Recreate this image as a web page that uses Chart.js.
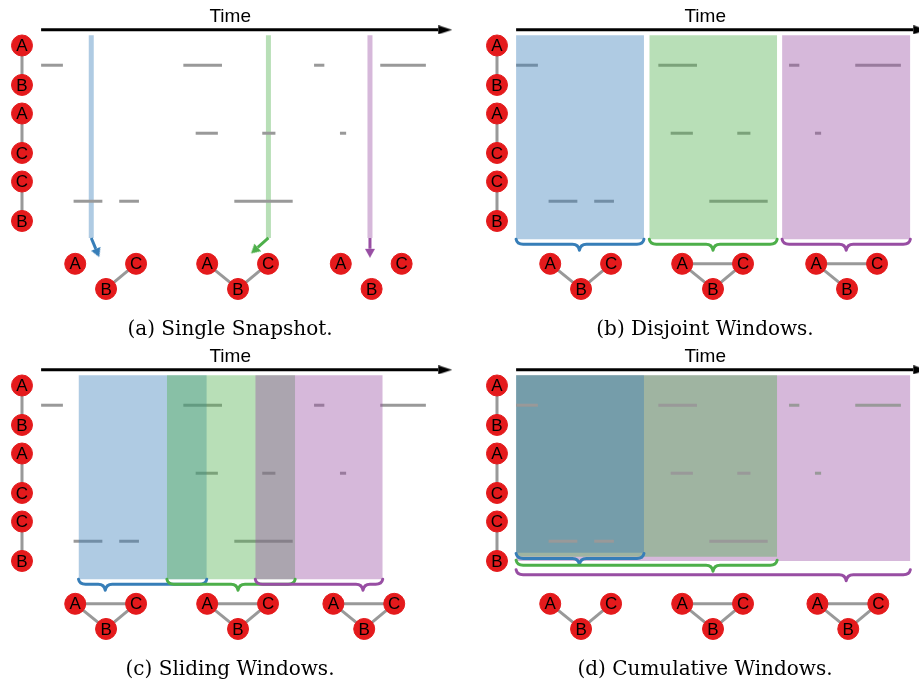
<!DOCTYPE html>
<html>
<head>
<meta charset="utf-8">
<title>Temporal network windows</title>
<script src="https://cdn.jsdelivr.net/npm/chart.js@4.4.1/dist/chart.umd.min.js"></script>
<style>
  html, body { margin: 0; padding: 0; background: #fff; }
  body { width: 919px; height: 685px; overflow: hidden; position: relative; }
  canvas { position: absolute; }
  #panelA { left: 0; top: 0; }
  #panelB { left: 475px; top: 0; }
  #panelC { left: 0; top: 340px; }
  #panelD { left: 475px; top: 340px; }
</style>
</head>
<body>
<canvas id="panelA" width="460" height="345"></canvas>
<canvas id="panelB" width="460" height="345"></canvas>
<canvas id="panelC" width="460" height="345"></canvas>
<canvas id="panelD" width="460" height="345"></canvas>
<script>
// node column on the left: pairs A-B, A-C, C-B (one pair per row)
var nodeLetters = ['A', 'B', 'A', 'C', 'C', 'B'];
var pairRows = [0, 1, 2];

// contacts (start, end) on the time axis, one list per pair
var contactsAB = [[0, 5.3], [34.6, 44.0], [66.4, 68.9], [82.5, 93.6]];
var contactsAC = [[37.6, 43.0], [53.8, 57.0], [72.7, 74.2]];
var contactsCB = [[7.9, 14.9], [19.0, 23.8], [47.0, 61.2]];

// (a) snapshots
var snapshotTimes = [12.2, 55.3, 80.0];
var snapshotArrowEnds = [[13.3, 2.70], [52.7, 2.68], [80.0, 2.70]];

// windows
var disjointWindows = [[0, 31.1], [32.4, 63.5], [64.7, 95.9]];
var slidingWindows = [[9.1, 40.3], [30.6, 61.8], [52.1, 83.1]];
var cumulativeWindows = [[0, 31.1], [0, 63.5], [0, 95.9]];
var cumulativeBottoms = [2.17, 2.23, 2.29];

// brace tips and the aggregated graphs under each panel
var braceTipsB = [15.4, 47.9, 80.3];
var braceTipsC = [15.6, 47.9, 78.3];
var braceTipsD = [15.4, 47.9, 80.3];
var braceRowsD = [2.18, 2.28, 2.42];

var graphCentersA = [15.8, 47.9, 80.4];
var graphCentersB = [15.8, 47.9, 80.5];
var graphCentersC = [15.8, 47.9, 78.6];
var graphCentersD = [15.8, 47.9, 80.8];

var graphEdgesA = [['B-C'], ['A-B', 'B-C'], []];
var graphEdgesB = [['A-B', 'B-C'], ['A-B', 'B-C', 'A-C'], ['A-B', 'A-C']];
var graphEdgesC = [['A-B', 'B-C', 'A-C'], ['A-B', 'B-C', 'A-C'], ['A-B', 'B-C', 'A-C']];
var graphEdgesD = [['A-B', 'B-C'], ['A-B', 'B-C', 'A-C'], ['A-B', 'B-C', 'A-C']];

var captions = ['(a) Single Snapshot.', '(b) Disjoint Windows.', '(c) Sliding Windows.', '(d) Cumulative Windows.'];

// ---- styling / layout constants ----
var RED = '#e41a1c';
var GRAY = '#999999';
var strong = ['#377eb8', '#4daf4a', '#984ea3'];
var pale = ['rgba(55,126,184,0.4)', 'rgba(77,175,74,0.4)', 'rgba(152,78,163,0.4)'];
var NODE_COL = -4.65, NODE_OFF = 0.29;
var TIME_ROW = -0.52, TIME_LABEL_ROW = -0.72, TIME_LABEL_AT = 46, TIME_END = 96.6;
var WIN_TOP = -0.44, WIN_BOTTOM = 2.56, SNAP_BOTTOM = 2.54;
var graphLayout = { A: [-7.5, 2.92], B: [0, 3.29], C: [7.3, 2.92] };

function pt(x, y) { return { x: x, y: y }; }

function makeHead(color, len, wid) {
    // base of the head sits at the canvas centre, tip points right
    var c = document.createElement('canvas');
    c.width = len * 2; c.height = wid;
    var g = c.getContext('2d');
    g.fillStyle = color;
    g.beginPath();
    g.moveTo(len, 0); g.lineTo(len * 2, wid / 2); g.lineTo(len, wid);
    g.closePath(); g.fill();
    return c;
}

function rotationOf(ctx) {
    var d = ctx.dataset.data, sx = ctx.chart.scales.x, sy = ctx.chart.scales.y;
    var a = d[0], b = d[d.length - 1];
    return Math.atan2(sy.getPixelForValue(b.y) - sy.getPixelForValue(a.y),
        sx.getPixelForValue(b.x) - sx.getPixelForValue(a.x)) * 180 / Math.PI;
}

function seg(a, b, color, width, order) {
    return { type: 'line', data: [a, b], borderColor: color, borderWidth: width,
        pointRadius: 0, order: order };
}

function arrow(a, b, color, width, head, order) {
    return { type: 'line', data: [a, b], borderColor: color, borderWidth: width, order: order,
        pointRadius: [0, 6], pointStyle: ['circle', head], pointRotation: rotationOf,
        pointBackgroundColor: color, pointBorderWidth: 0 };
}

function nodes(points, letters) {
    return { type: 'line', showLine: false, data: points, letters: letters,
        pointRadius: 10.5, pointBackgroundColor: RED, pointBorderColor: RED,
        pointBorderWidth: 1, order: 0 };
}

function windowBox(w, bottom, color, order) {
    return { type: 'line', data: [pt(w[0], WIN_TOP), pt(w[1], WIN_TOP)],
        borderWidth: 0, borderColor: 'transparent', pointRadius: 0,
        backgroundColor: color, fill: { value: bottom }, order: order };
}

function baseDatasets(contactOrder) {
    var out = [];
    out.push(arrow(pt(0, TIME_ROW), pt(TIME_END, TIME_ROW), '#000', 3, makeHead('#000', 14, 9), 1));
    out.push({ type: 'line', showLine: false, data: [pt(TIME_LABEL_AT, TIME_LABEL_ROW)],
        pointRadius: 0, letters: ['Time'], letterFont: '19px "Liberation Sans", Arial, sans-serif', order: 0 });
    var colPoints = [];
    pairRows.forEach(function (r) {
        colPoints.push(pt(NODE_COL, r - NODE_OFF), pt(NODE_COL, r + NODE_OFF));
        out.push(seg(pt(NODE_COL, r - NODE_OFF), pt(NODE_COL, r + NODE_OFF), GRAY, 3, 2));
    });
    out.push(nodes(colPoints, nodeLetters));
    [contactsAB, contactsAC, contactsCB].forEach(function (list, r) {
        list.forEach(function (c) {
            out.push(seg(pt(c[0], r), pt(c[1], r), GRAY, 3, contactOrder));
        });
    });
    return out;
}

function graphDatasets(centers, edgeLists) {
    var out = [];
    centers.forEach(function (c, i) {
        var p = function (k) { return pt(c + graphLayout[k][0], graphLayout[k][1]); };
        edgeLists[i].forEach(function (e) {
            var uv = e.split('-');
            out.push(seg(p(uv[0]), p(uv[1]), GRAY, 3, 2));
        });
        out.push(nodes(['A', 'B', 'C'].map(p), ['A', 'B', 'C']));
    });
    return out;
}

// letters inside nodes and the "Time" label
Chart.register({
    id: 'nodeLetters',
    afterDatasetsDraw: function (chart) {
        var ctx = chart.ctx;
        chart.data.datasets.forEach(function (ds, i) {
            if (!ds.letters) return;
            var meta = chart.getDatasetMeta(i);
            ctx.save();
            ctx.fillStyle = '#000';
            ctx.font = ds.letterFont || '17px "Liberation Sans", Arial, sans-serif';
            ctx.textAlign = 'center';
            ctx.textBaseline = 'middle';
            meta.data.forEach(function (el, j) {
                ctx.fillText(ds.letters[j], el.x, el.y + 1);
            });
            ctx.restore();
        });
    }
});

function bracePlugin(braces) {
    return {
        id: 'braces',
        afterDatasetsDraw: function (chart) {
            var ctx = chart.ctx, sx = chart.scales.x, sy = chart.scales.y;
            braces.forEach(function (b, i) {
                var x0 = sx.getPixelForValue(b[0]), x1 = sx.getPixelForValue(b[1]);
                var xt = sx.getPixelForValue(b[2]), y0 = sy.getPixelForValue(b[3]);
                var h = 11, ym = y0 + 5, r = 7;
                ctx.save();
                ctx.strokeStyle = strong[i];
                ctx.lineWidth = 3;
                ctx.lineCap = 'round';
                ctx.lineJoin = 'round';
                ctx.beginPath();
                ctx.moveTo(x0, y0);
                ctx.quadraticCurveTo(x0 + 1, ym, x0 + r, ym);
                ctx.lineTo(xt - r, ym);
                ctx.quadraticCurveTo(xt - 1, ym, xt, y0 + h);
                ctx.quadraticCurveTo(xt + 1, ym, xt + r, ym);
                ctx.lineTo(x1 - r, ym);
                ctx.quadraticCurveTo(x1 - 1, ym, x1, y0);
                ctx.stroke();
                ctx.restore();
            });
        }
    };
}

function makeChart(id, caption, datasets, braces) {
    return new Chart(document.getElementById(id), {
        data: { datasets: datasets },
        plugins: [bracePlugin(braces)],
        options: {
            responsive: false,
            devicePixelRatio: 1,
            animation: false,
            events: [],
            layout: { autoPadding: false, padding: { left: 0, right: 0, top: 0, bottom: 3 } },
            elements: { line: { tension: 0 } },
            scales: {
                x: { type: 'linear', min: -10, max: 101.9, display: false },
                y: { type: 'linear', min: -0.959, max: 3.717, reverse: true, display: false }
            },
            plugins: {
                legend: { display: false },
                tooltip: { enabled: false },
                title: {
                    display: true, position: 'bottom', text: caption, color: '#000',
                    padding: { top: 0, bottom: 0 },
                    font: { family: '"DejaVu Serif", serif', size: 20, weight: 'normal', lineHeight: 1.2 }
                }
            }
        }
    });
}

// (a) single snapshot
var dsA = baseDatasets(4);
snapshotTimes.forEach(function (t, i) {
    dsA.push(seg(pt(t, WIN_TOP), pt(t, SNAP_BOTTOM), pale[i], 5, 5));
    var e = snapshotArrowEnds[i];
    dsA.push(arrow(pt(t, SNAP_BOTTOM), pt(e[0], e[1]), strong[i], 3, makeHead(strong[i], 9, 10), 1));
});
dsA = dsA.concat(graphDatasets(graphCentersA, graphEdgesA));
makeChart('panelA', captions[0], dsA, []);

// (b) disjoint windows
var dsB = baseDatasets(4);
disjointWindows.forEach(function (w, i) { dsB.push(windowBox(w, WIN_BOTTOM, pale[i], 3)); });
dsB = dsB.concat(graphDatasets(graphCentersB, graphEdgesB));
makeChart('panelB', captions[1], dsB, disjointWindows.map(function (w, i) {
    return [w[0], w[1], braceTipsB[i], WIN_BOTTOM];
}));

// (c) sliding windows (later windows drawn on top)
var dsC = baseDatasets(4);
slidingWindows.forEach(function (w, i) { dsC.push(windowBox(w, WIN_BOTTOM, pale[i], 3.3 - i * 0.1)); });
dsC = dsC.concat(graphDatasets(graphCentersC, graphEdgesC));
makeChart('panelC', captions[2], dsC, slidingWindows.map(function (w, i) {
    return [w[0], w[1], braceTipsC[i], WIN_BOTTOM];
}));

// (d) cumulative windows (smaller windows drawn on top, contacts above)
var dsD = baseDatasets(2.5);
cumulativeWindows.forEach(function (w, i) { dsD.push(windowBox(w, cumulativeBottoms[i], pale[i], 3.1 + i * 0.1)); });
dsD = dsD.concat(graphDatasets(graphCentersD, graphEdgesD));
makeChart('panelD', captions[3], dsD, cumulativeWindows.map(function (w, i) {
    return [w[0], w[1], braceTipsD[i], braceRowsD[i]];
}));
</script>
</body>
</html>
